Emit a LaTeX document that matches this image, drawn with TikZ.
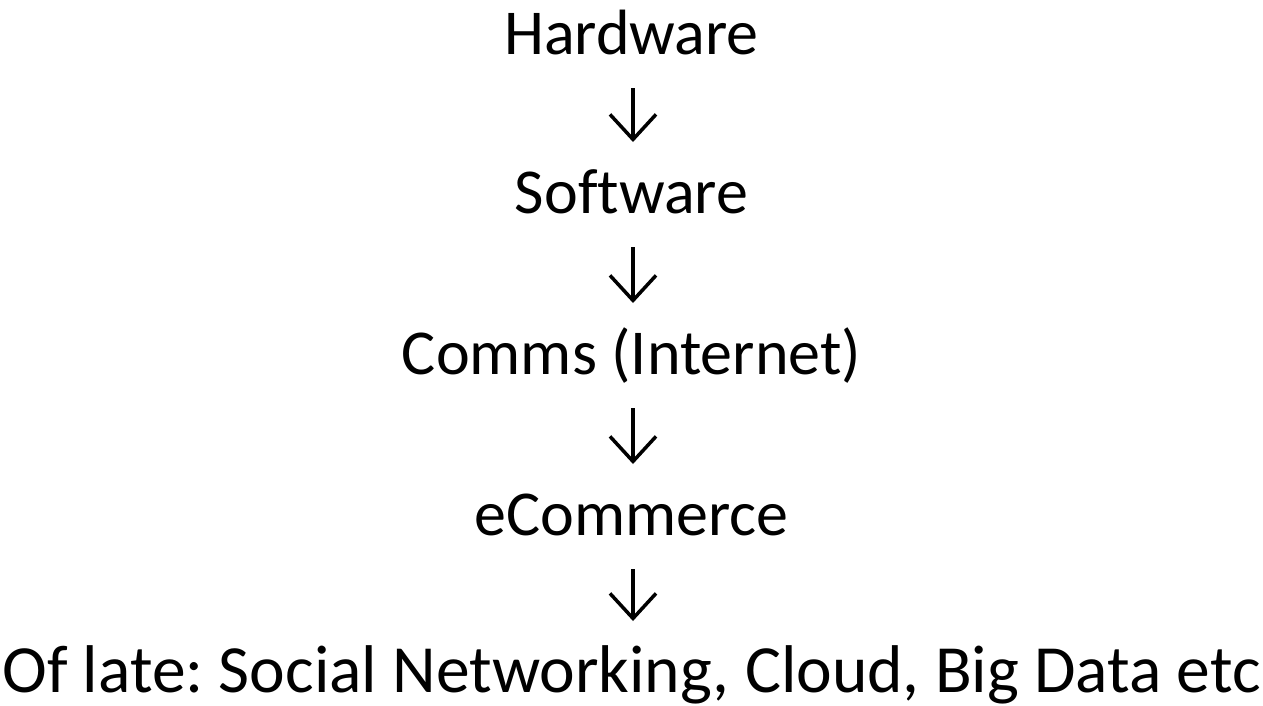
\documentclass[tikz,border=0pt]{standalone}
\usepackage{fontspec}
\setmainfont[Ligatures = NoCommon]{Carlito}
\usepackage{tikz}
\usetikzlibrary{arrows.meta}
\usetikzlibrary{positioning}
\frenchspacing
\tikzstyle{stage} = [inner sep = 0, anchor = base, font = \fontsize{64}{64}\selectfont]
\tikzstyle{last stage} = [stage, font = \fontsize{67.5}{67.5}\selectfont]
\tikzstyle{flow} = [line width = 3.5, -{Straight Barb[length = 25, width = 46]}]
\tikzstyle{stage picture} = [x = 1pt, y = 1pt]

\begin{document}
\begin{tikzpicture}[stage picture]
            \useasboundingbox (0, 0) rectangle (1263, -705);
            \node [stage] (hw) at (631.5, -54) {Hardware};
            \node [stage] (sw) at (631.5, -213) {Software};
            \node [stage] (comms) at (631.5, -374) {Comms (Internet)};
            \node [stage] (ecom) at (631.5, -535) {eCommerce};
            \node [last stage] (late) at (631.5, -692) {Of late: Social Networking, Cloud, Big Data etc};
            \foreach \a/\b in {hw/sw, sw/comms, comms/ecom, ecom/late}
            {
                \draw [flow] ([xshift = 1.5, yshift = -34]\a.base) -- ([xshift = 1.5, yshift = 71]\b.base);
            }
        \end{tikzpicture}
\end{document}
